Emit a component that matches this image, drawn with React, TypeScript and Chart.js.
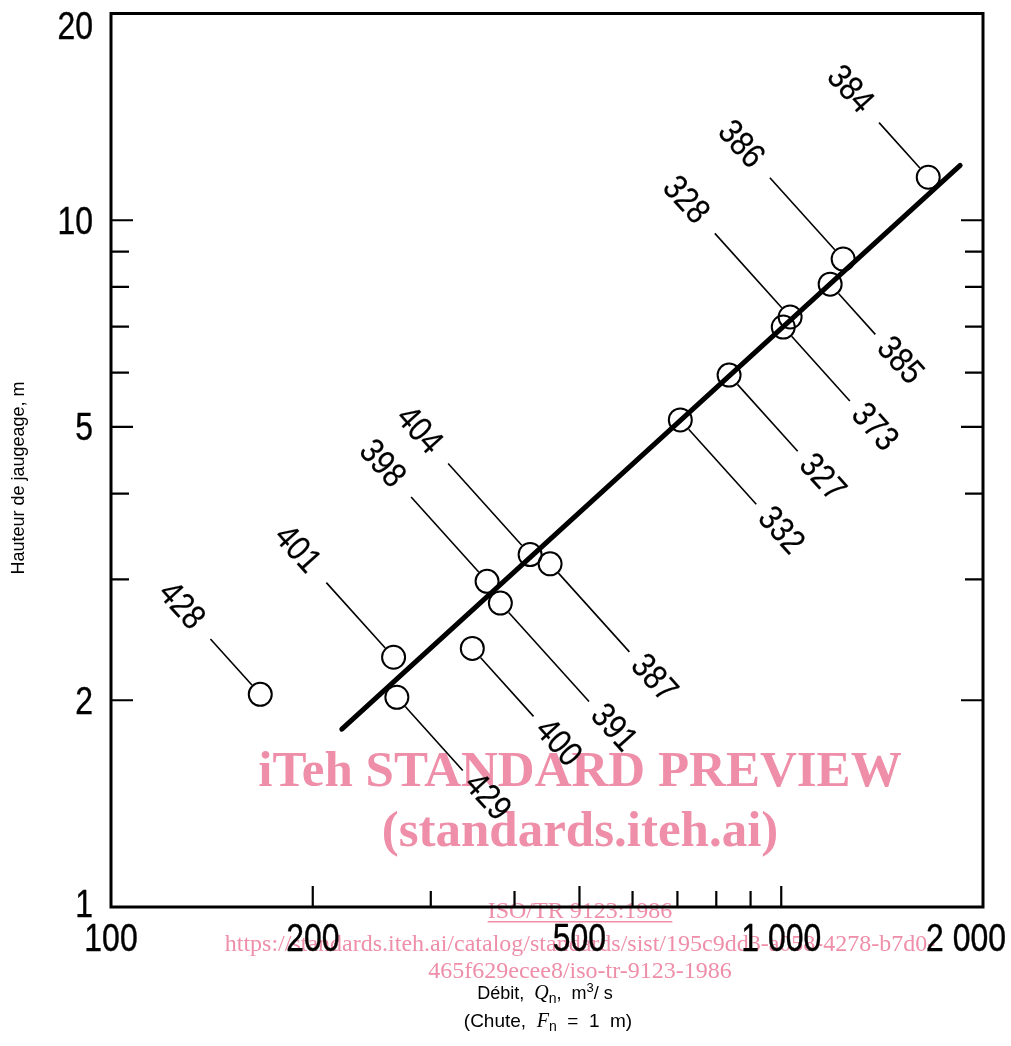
import React, { useEffect, useRef } from 'react';
import { Chart, registerables } from 'chart.js';

Chart.register(...registerables);

// ---------- data ----------
const stationIds = ['428', '401', '429', '400', '398', '391', '404', '387', '332', '327', '373', '328', '385', '386', '384'];
const discharge = [167, 264, 267, 346, 364, 381, 422, 452, 707, 836, 1007, 1031, 1183, 1237, 1657];
const gaugeHeight = [2.04, 2.31, 2.02, 2.38, 2.98, 2.77, 3.26, 3.16, 5.12, 5.95, 6.99, 7.23, 8.07, 8.78, 11.55];
const labelSide = ['up', 'up', 'down', 'down', 'up', 'down', 'up', 'down', 'down', 'down', 'down', 'up', 'down', 'up', 'up'];
const fitDischarge = [221, 1849];
const fitHeight = [1.815, 12.02];

const xTickValues = [100, 200, 500, 1000, 2000];
const xTickText = ['100', '200', '500', '1 000', '2 000'];
const yTickValues = [1, 2, 5, 10, 20];
const yTickText = ['1', '2', '5', '10', '20'];
const xTickMarks = [200, 300, 400, 500, 600, 700, 800, 900, 1000];
const xMajorMarks = [200, 500, 1000];
const yTickMarks = [2, 3, 4, 5, 6, 7, 8, 9, 10];
const yMajorMarks = [2, 5, 10];

const yTitle = 'Hauteur de jaugeage, m';
const watermarkTitle = 'iTeh STANDARD PREVIEW';
const watermarkSub = '(standards.iteh.ai)';
const watermarkRef = 'ISO/TR 9123:1986';
const watermarkUrl1 = 'https://standards.iteh.ai/catalog/standards/sist/195c9dd3-a058-4278-b7d0-';
const watermarkUrl2 = '465f629ecee8/iso-tr-9123-1986';

// ---------- layout / style ----------
const W = 1011;
const H = 1046;
const AREA_LEFT = 111;
const AREA_RIGHT = 983;
const AREA_TOP = 13;
const AREA_BOTTOM = 907;
const SANS = '"Liberation Sans", Arial, sans-serif';
const SERIF = '"Liberation Serif", "Times New Roman", serif';
const PINK = 'rgb(238,142,168)';
const leaderLength: Record<string, number> = {
  '428': 62, '401': 88, '429': 86, '400': 79, '398': 101, '391': 120, '404': 110, '387': 106,
  '332': 101, '327': 90, '373': 87, '328': 100, '385': 55, '386': 97, '384': 61,
};
const THETA = (48 * Math.PI) / 180;
const CIRCLE_R = 11.5;

type Run = { text: string; font: string; dy?: number };

function drawRuns(ctx: CanvasRenderingContext2D, runs: Run[], cx: number, baseline: number) {
  let total = 0;
  const widths = runs.map((r) => {
    ctx.font = r.font;
    const w = ctx.measureText(r.text).width;
    total += w;
    return w;
  });
  let x = cx - total / 2;
  ctx.textAlign = 'left';
  ctx.textBaseline = 'alphabetic';
  runs.forEach((r, i) => {
    ctx.font = r.font;
    ctx.fillText(r.text, x, baseline + (r.dy || 0));
    x += widths[i];
  });
}

function fillNarrow(
  ctx: CanvasRenderingContext2D, text: string, x: number, y: number,
  align: CanvasTextAlign, sx: number, rot = 0, stroke = 0,
) {
  ctx.save();
  ctx.translate(x, y);
  if (rot) ctx.rotate(rot);
  ctx.scale(sx, 1);
  ctx.textAlign = align;
  ctx.fillText(text, 0, 0);
  if (stroke) {
    ctx.lineWidth = stroke;
    ctx.lineJoin = 'round';
    ctx.strokeText(text, 0, 0);
  }
  ctx.restore();
}

const overlayPlugin = {
  id: 'overlay',
  beforeDraw(chart: any) {
    const ctx: CanvasRenderingContext2D = chart.ctx;
    ctx.save();
    ctx.fillStyle = PINK;
    ctx.textAlign = 'center';
    ctx.textBaseline = 'alphabetic';
    ctx.font = `bold 51px ${SERIF}`;
    ctx.fillText(watermarkTitle, 580, 786);
    ctx.fillText(watermarkSub, 580, 846);
    ctx.font = `24px ${SERIF}`;
    ctx.fillText(watermarkRef, 580, 918);
    const rw = ctx.measureText(watermarkRef).width;
    ctx.fillRect(580 - rw / 2, 921, rw, 1.5);
    ctx.fillText(watermarkUrl1, 580, 951);
    ctx.fillText(watermarkUrl2, 580, 978);
    ctx.restore();
  },
  afterDraw(chart: any) {
    const ctx: CanvasRenderingContext2D = chart.ctx;
    const xs = chart.scales.x;
    const ys = chart.scales.y;
    const a = chart.chartArea;
    ctx.save();
    ctx.strokeStyle = '#000';
    ctx.fillStyle = '#000';

    // frame
    ctx.lineWidth = 3;
    ctx.strokeRect(a.left, a.top, a.right - a.left, a.bottom - a.top);

    // tick marks (inside)
    ctx.lineWidth = 2.2;
    ctx.beginPath();
    xTickMarks.forEach((v) => {
      const px = xs.getPixelForValue(v);
      const len = xMajorMarks.includes(v) ? 21 : 16;
      ctx.moveTo(px, a.bottom);
      ctx.lineTo(px, a.bottom - len);
    });
    yTickMarks.forEach((v) => {
      const py = ys.getPixelForValue(v);
      const len = yMajorMarks.includes(v) ? 22 : 18;
      ctx.moveTo(a.left, py);
      ctx.lineTo(a.left + len, py);
      ctx.moveTo(a.right, py);
      ctx.lineTo(a.right - len, py);
    });
    ctx.stroke();

    // tick labels
    ctx.font = `38px ${SANS}`;
    ctx.textBaseline = 'alphabetic';
    xTickValues.forEach((v, i) => {
      let px = xs.getPixelForValue(v);
      if (i === xTickValues.length - 1) px -= 17;
      fillNarrow(ctx, xTickText[i], px, 951, 'center', 0.84, 0, 0.4);
    });
    yTickValues.forEach((v, i) => {
      let py = ys.getPixelForValue(v);
      py = Math.max(py, a.top + 12);
      if (i === 0) py -= 4;
      fillNarrow(ctx, yTickText[i], 93, py + 13.5, 'right', 0.84, 0, 0.4);
    });

    // leader lines and station labels
    const c = Math.cos(THETA);
    const s = Math.sin(THETA);
    ctx.font = `35px ${SANS}`;
    ctx.textBaseline = 'middle';
    stationIds.forEach((id, i) => {
      const px = xs.getPixelForValue(discharge[i]);
      const py = ys.getPixelForValue(gaugeHeight[i]);
      const up = labelSide[i] === 'up';
      const sign = up ? -1 : 1;
      const ux = sign * c;
      const uy = sign * s;
      const len = leaderLength[id];
      const r0 = CIRCLE_R + 1;
      ctx.lineWidth = 1.6;
      ctx.beginPath();
      ctx.moveTo(px + ux * r0, py + uy * r0);
      ctx.lineTo(px + ux * (r0 + len), py + uy * (r0 + len));
      ctx.stroke();
      const gap = up ? 19 : 11;
      const lx = px + ux * (r0 + len + gap);
      const ly = py + uy * (r0 + len + gap);
      fillNarrow(ctx, id, lx, ly, up ? 'right' : 'left', 0.86, THETA, 0.2);
    });

    // axis titles
    ctx.save();
    ctx.translate(24, 478);
    ctx.rotate(-Math.PI / 2);
    ctx.font = `18px ${SANS}`;
    ctx.textAlign = 'center';
    ctx.textBaseline = 'alphabetic';
    ctx.fillText(yTitle, 0, 0);
    ctx.restore();

    drawRuns(ctx, [
      { text: 'Débit,  ', font: `18px ${SANS}` },
      { text: 'Q', font: `italic 20px ${SERIF}` },
      { text: 'n', font: `14px ${SANS}`, dy: 4 },
      { text: ',  m', font: `18px ${SANS}` },
      { text: '3', font: `13px ${SANS}`, dy: -7 },
      { text: '/ s', font: `18px ${SANS}` },
    ], 545, 999);

    drawRuns(ctx, [
      { text: '(Chute,  ', font: `19px ${SANS}` },
      { text: 'F', font: `italic 20px ${SERIF}` },
      { text: 'n', font: `14px ${SANS}`, dy: 4 },
      { text: '  =  1  m)', font: `19px ${SANS}` },
    ], 548, 1027);

    ctx.restore();
  },
};

export default function App() {
  const ref = useRef<HTMLCanvasElement | null>(null);

  useEffect(() => {
    if (!ref.current) return;
    const points = discharge.map((x, i) => ({ x, y: gaugeHeight[i] }));
    const fit = fitDischarge.map((x, i) => ({ x, y: fitHeight[i] }));
    const chart = new Chart(ref.current, {
      type: 'scatter',
      data: {
        datasets: [
          {
            type: 'line',
            label: 'fit',
            data: fit,
            borderColor: '#000',
            borderWidth: 5,
            borderCapStyle: 'round',
            pointRadius: 0,
            fill: false,
            showLine: true,
          } as any,
          {
            label: 'stations',
            data: points,
            pointRadius: CIRCLE_R,
            pointBorderWidth: 2,
            borderColor: '#000',
            backgroundColor: 'rgba(255,255,255,0)',
            pointStyle: 'circle',
          } as any,
        ],
      },
      options: {
        animation: false,
        responsive: false,
        devicePixelRatio: 1,
        layout: { padding: { left: 0, top: AREA_TOP, right: W - AREA_RIGHT, bottom: 0 } },
        plugins: { legend: { display: false }, tooltip: { enabled: false } },
        scales: {
          x: {
            type: 'logarithmic',
            min: 100,
            max: 2000,
            grid: { display: false },
            border: { display: false },
            ticks: { display: false },
            afterFit: (scale: any) => {
              scale.height = H - AREA_BOTTOM;
              scale.paddingLeft = 0;
              scale.paddingRight = 0;
            },
          },
          y: {
            type: 'logarithmic',
            min: 1,
            max: 20,
            grid: { display: false },
            border: { display: false },
            ticks: { display: false },
            afterFit: (scale: any) => {
              scale.width = AREA_LEFT;
              scale.paddingTop = 0;
              scale.paddingBottom = 0;
            },
          },
        },
      } as any,
      plugins: [overlayPlugin],
    });
    return () => chart.destroy();
  }, []);

  return (
    <div style={{ position: 'absolute', left: 0, top: 0, width: W, height: H, background: '#fff' }}>
      <canvas ref={ref} width={W} height={H} style={{ width: W, height: H, display: 'block' }} />
    </div>
  );
}
